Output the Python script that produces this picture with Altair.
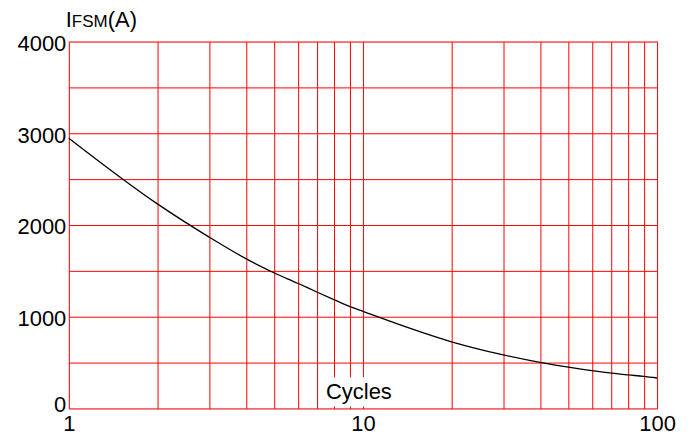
import altair as alt
import pandas as pd

cycles = [1, 2, 3, 4, 5, 6, 7, 8, 9, 10, 20, 30, 40, 50, 60, 70, 80, 90, 100]
ifsm = [2946, 2230, 1868, 1633, 1477, 1365, 1267, 1184, 1112, 1058,
        727, 584, 502, 450, 412, 384, 365, 350, 332]

x_grid = [1, 2, 3, 4, 5, 6, 7, 8, 9, 10, 20, 30, 40, 50, 60, 70, 80, 90, 100]
x_labels = [1, 10, 100]
y_grid = [0, 500, 1000, 1500, 2000, 2500, 3000, 3500, 4000]
y_labels = [0, 1000, 2000, 3000, 4000]

FONT = "Liberation Sans"
RED = "#ff0000"

df = pd.DataFrame({"c": cycles, "i": ifsm})

xscale = alt.Scale(type="log", domain=[1, 100], nice=False)
yscale = alt.Scale(domain=[0, 4000], nice=False)

xl = "[" + ",".join(str(v) for v in x_labels) + "]"
yl = "[" + ",".join(str(v) for v in y_labels) + "]"

line = alt.Chart(df).mark_line(color="black", strokeWidth=1.3, interpolate="monotone").encode(
    x=alt.X("c:Q", scale=xscale, title=None,
            axis=alt.Axis(values=x_grid, grid=True, gridColor=RED, gridOpacity=1, gridWidth=1,
                          ticks=False, domain=False, labelOverlap=False, labelBound=False,
                          labelFlush=False,
                          labelExpr=f"indexof({xl}, datum.value) >= 0 ? format(datum.value, 'd') : ''",
                          labelFont=FONT, labelFontSize=22, labelColor="black", labelPadding=5)),
    y=alt.Y("i:Q", scale=yscale, title=None,
            axis=alt.Axis(values=y_grid, grid=True, gridColor=RED, gridOpacity=1, gridWidth=1,
                          ticks=False, domain=False, labelOverlap=False, labelFlush=False,
                          labelOffset={"expr": "datum.value == 0 ? -4 : 2"},
                          labelExpr=f"indexof({yl}, datum.value) >= 0 ? format(datum.value, 'd') : ''",
                          labelFont=FONT, labelFontSize=22, labelColor="black", labelPadding=3)),
)

# white box behind the "Cycles" label (interrupts grid lines)
box_df = pd.DataFrame({"x1": [7.2], "x2": [12.5], "y1": [20], "y2": [340]})
box = alt.Chart(box_df).mark_rect(color="white").encode(
    x=alt.X("x1:Q", scale=xscale), x2="x2:Q",
    y=alt.Y("y1:Q", scale=yscale), y2="y2:Q",
)

lab_df = pd.DataFrame({"x": [9.69], "y": [105], "t": ["Cycles"]})
cyc = alt.Chart(lab_df).mark_text(font=FONT, fontSize=22, align="center", baseline="alphabetic",
                                  color="black").encode(
    x=alt.X("x:Q", scale=xscale), y=alt.Y("y:Q", scale=yscale), text="t:N")

t_df = pd.DataFrame({"a": ["I"], "b": ["FSM"], "c": ["(A)"]})
t1 = alt.Chart(t_df).mark_text(font=FONT, fontSize=22, align="left", baseline="alphabetic",
                               color="black").encode(x=alt.value(-3), y=alt.value(-15), text="a:N")
t2 = alt.Chart(t_df).mark_text(font=FONT, fontSize=17, align="left", baseline="alphabetic",
                               color="black").encode(x=alt.value(3), y=alt.value(-15), text="b:N")
t3 = alt.Chart(t_df).mark_text(font=FONT, fontSize=22, align="left", baseline="alphabetic",
                               color="black").encode(x=alt.value(39), y=alt.value(-15), text="c:N")

chart = alt.layer(box, line, cyc, t1, t2, t3).properties(
    width=590, height=368,
    autosize=alt.AutoSizeParams(type="none"),
    padding={"left": 61, "top": 33, "right": 25, "bottom": 26},
).configure_view(stroke=None).configure(background="white")

chart.save("out.html", embed_options={"renderer": "svg", "actions": False})
